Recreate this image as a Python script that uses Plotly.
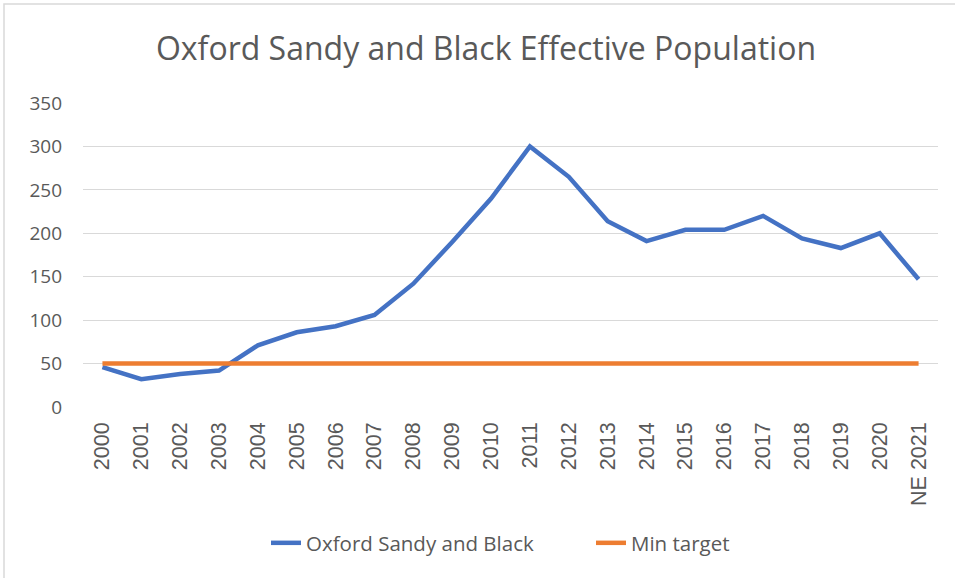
import plotly.graph_objects as go

years = ["2000", "2001", "2002", "2003", "2004", "2005", "2006", "2007", "2008", "2009",
         "2010", "2011", "2012", "2013", "2014", "2015", "2016", "2017", "2018", "2019",
         "2020", "NE 2021"]
osb_values = [46, 32, 38, 42, 71, 86, 93, 106, 142, 190, 240, 300, 265, 214, 191, 204,
              204, 220, 194, 183, 200, 147]
min_target = [50] * len(years)
y_ticks = [0, 50, 100, 150, 200, 250, 300, 350]

W, H = 955, 578
L, R, T, B = 83, 17, 103, 171
pw, ph = W - L - R, H - T - B

def px_x(p):
    return (p - L) / pw

def px_y(p):
    return (H - B - p) / ph

grey = "#595959"
leg_font = dict(family="Open Sans", size=20.5, color=grey)
fig = go.Figure()
fig.add_trace(go.Scatter(x=years, y=osb_values, mode="lines", name="Oxford Sandy and Black",
                         line=dict(color="#4472C4", width=4.5), legend="legend"))
fig.add_trace(go.Scatter(x=years, y=min_target, mode="lines", name="Min target",
                         line=dict(color="#ED7D31", width=4.5), legend="legend2"))

fig.update_layout(
    width=W, height=H,
    margin=dict(l=L, r=R, t=T, b=B, pad=0),
    paper_bgcolor="white", plot_bgcolor="white",
    title=dict(text="Oxford Sandy and Black Effective Population",
               x=px_x(486), xref="paper", xanchor="center",
               y=1 - 49 / H, yref="container", yanchor="middle",
               font=dict(family="Open Sans", size=32, color=grey)),
    font=dict(family="Open Sans", color=grey),
    showlegend=True,
    legend=dict(orientation="h", x=px_x(266), xanchor="left",
                y=px_y(543), yanchor="middle", font=leg_font, bgcolor="rgba(0,0,0,0)"),
    legend2=dict(orientation="h", x=px_x(591), xanchor="left",
                 y=px_y(543), yanchor="middle", font=leg_font, bgcolor="rgba(0,0,0,0)"),
    xaxis=dict(type="category", range=[-0.5, len(years) - 0.5], showgrid=False,
               showline=False, zeroline=False, tickangle=-90, ticks="",
               ticklabelstandoff=10,
               tickfont=dict(family="Liberation Sans", size=21.5, color=grey)),
    yaxis=dict(range=[0, 350], tickvals=y_ticks, showgrid=True, gridcolor="#d9d9d9",
               gridwidth=1.3, zeroline=False, showline=False, ticks="",
               ticklabelstandoff=20,
               tickfont=dict(family="Open Sans", size=19, color=grey)),
    shapes=[dict(type="rect", xref="paper", yref="paper",
                 x0=px_x(4), x1=px_x(960), y0=px_y(590), y1=px_y(4),
                 line=dict(color="#d9d9d9", width=1.5), fillcolor="rgba(0,0,0,0)",
                 layer="below")],
)

fig.write_html("out.html", config={"displayModeBar": False},
               post_script="document.body.style.margin='0';document.body.style.overflow='hidden';")
